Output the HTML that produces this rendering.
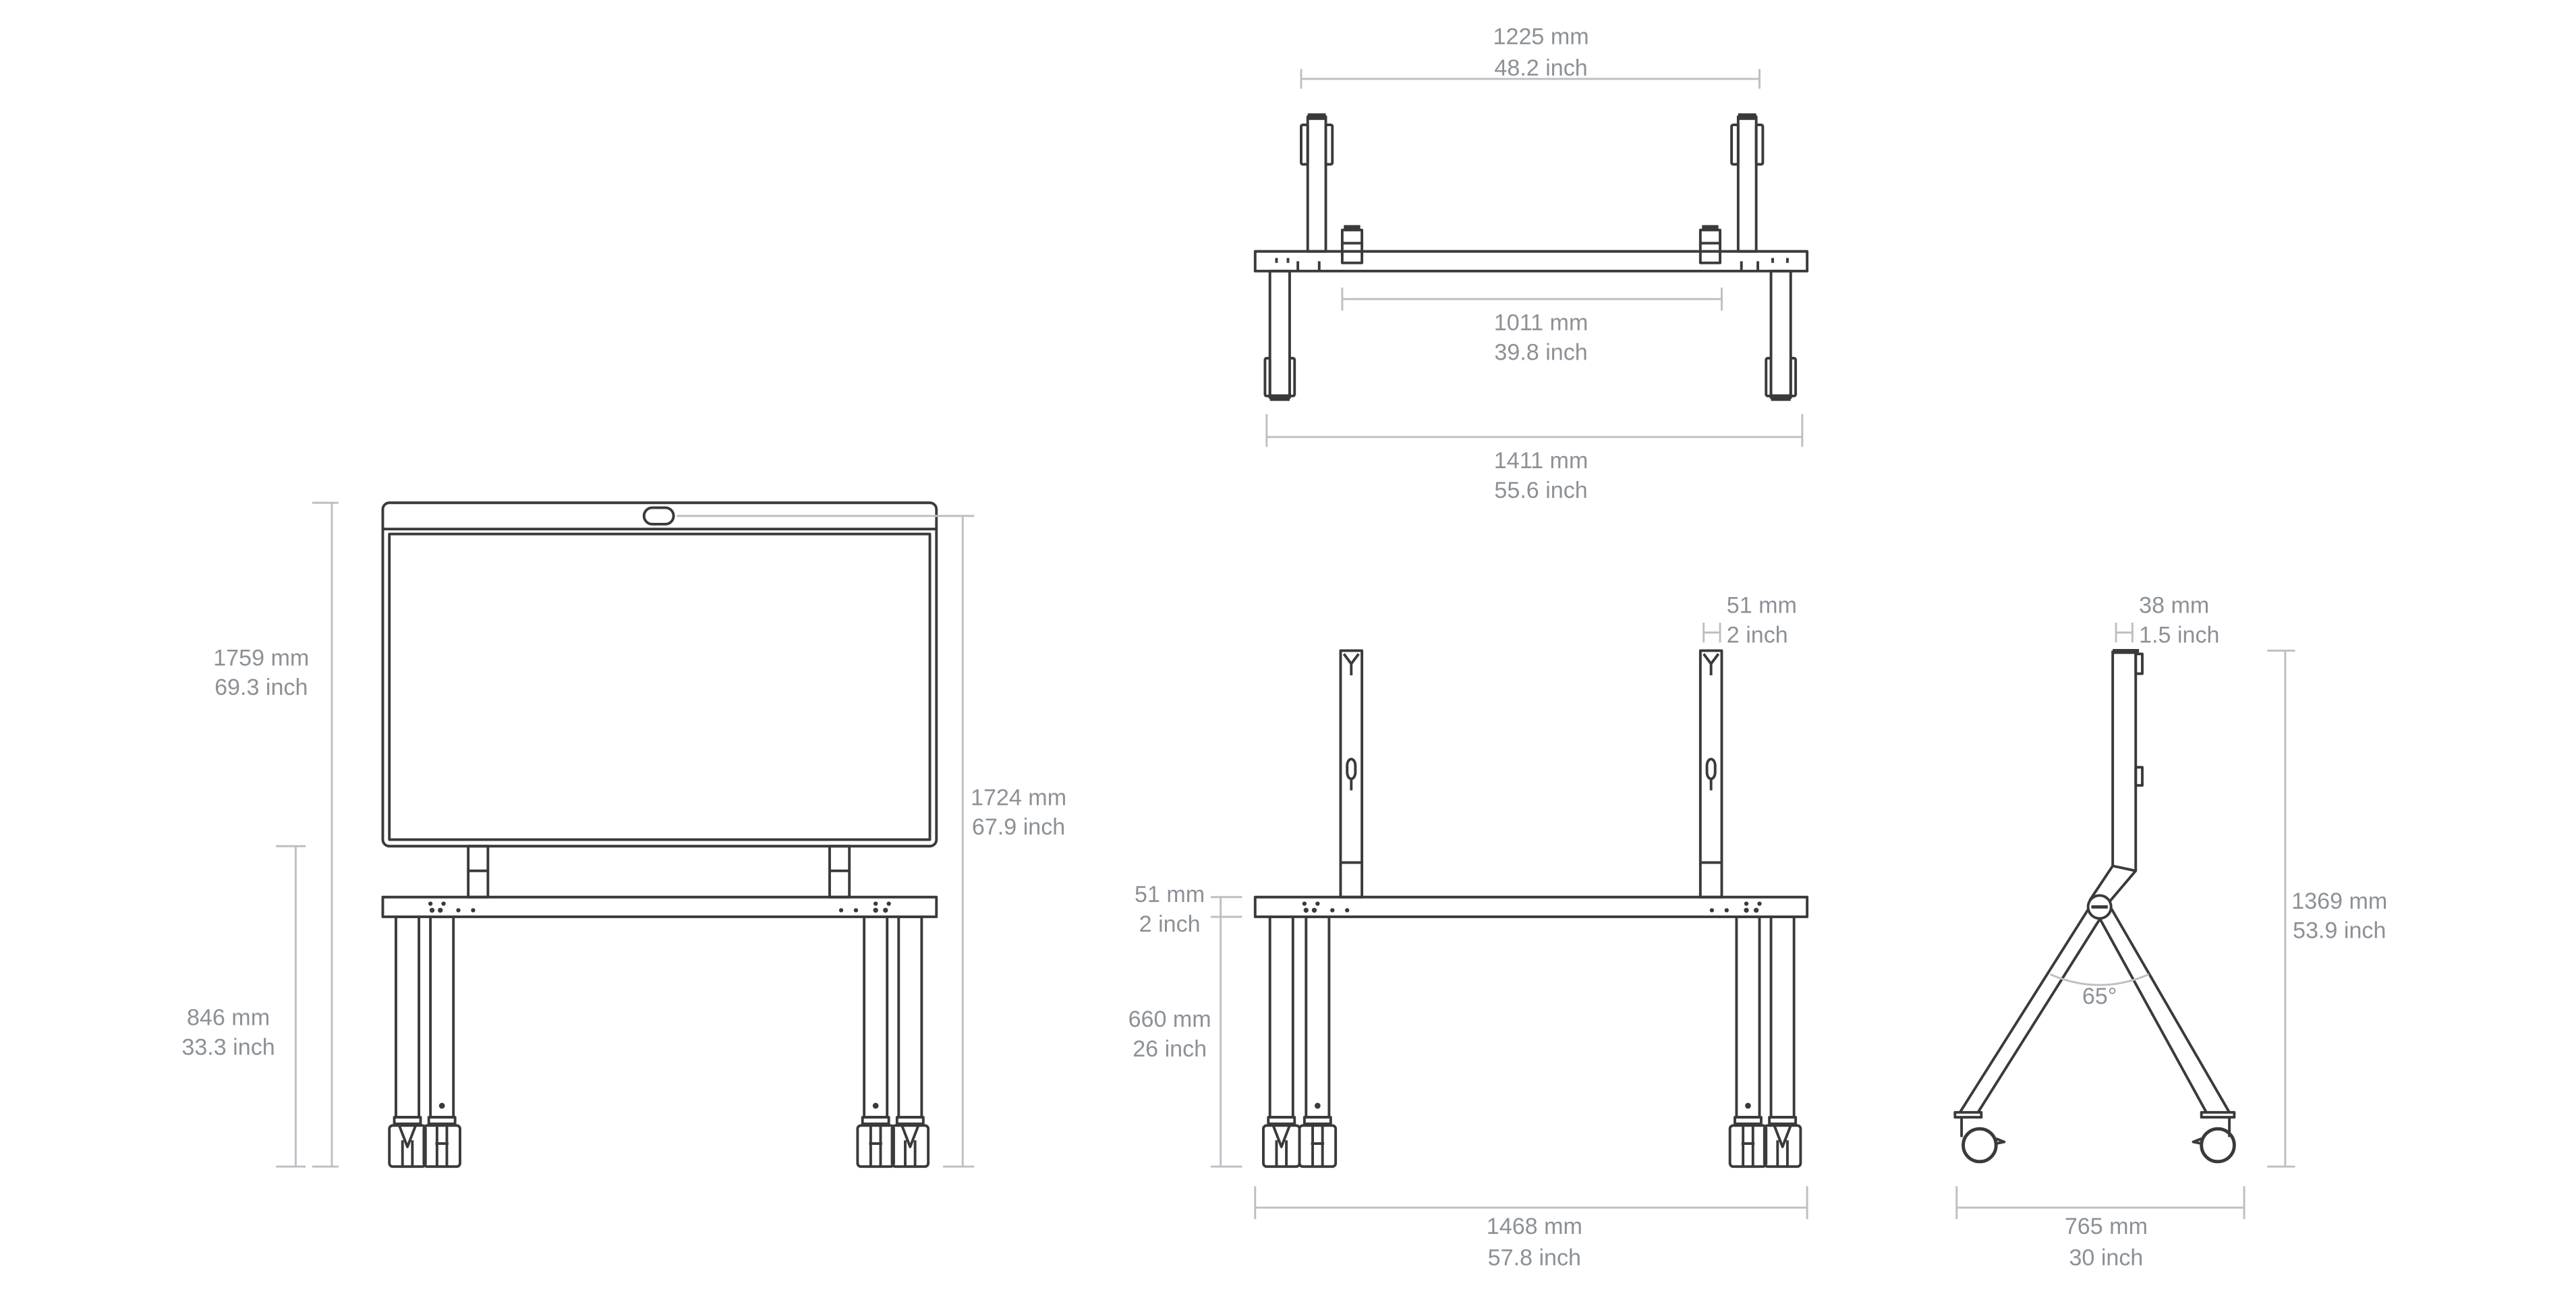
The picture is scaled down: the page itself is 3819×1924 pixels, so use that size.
<!DOCTYPE html>
<html><head><meta charset="utf-8"><style>
html,body{margin:0;padding:0;background:#fff;}
svg{display:block;}
text{font-family:"Liberation Sans",sans-serif;font-size:14px;fill:#8c9197;text-anchor:middle;}
.d{fill:none;stroke:#3a3a3a;stroke-width:1.6;stroke-linejoin:round;}
.g{fill:none;stroke:#bcbfc3;stroke-width:1.2;}
.f{fill:#3a3a3a;}
</style></head><body>
<svg width="3819" height="1924" viewBox="0 0 1568 790" preserveAspectRatio="none" xmlns="http://www.w3.org/2000/svg">
<defs>
<g id="leg">
  <rect class="d" x="0" y="0" width="14" height="122"/>
  <rect class="d" x="-1" y="122" width="16" height="4"/>
  <rect class="d" x="-4" y="127" width="22" height="25" rx="2"/>
  <path class="d" d="M2 127 L7 140 L12 127 M4 136 V152 M10 136 V152"/>
</g>
<g id="leg2">
  <rect class="d" x="0" y="0" width="14" height="122"/>
  <circle class="f" cx="7" cy="115" r="1.8"/>
  <rect class="d" x="-1" y="122" width="16" height="4"/>
  <rect class="d" x="-4" y="127" width="22" height="25" rx="2"/>
  <path class="d" d="M4 127 V152 M10 127 V152 M3 138 H11"/>
</g>
</defs>

<!-- ============ LEFT FRONT VIEW ============ -->
<rect class="d" x="233" y="306" width="337" height="209" rx="4"/>
<line class="d" x1="233" y1="322" x2="570" y2="322"/>
<rect class="d" x="237" y="325" width="329" height="186"/>
<rect class="d" x="392" y="309" width="18" height="10" rx="5"/>
<line class="g" x1="412" y1="314" x2="593" y2="314"/>
<rect class="d" x="285" y="515" width="12" height="31"/>
<line class="d" x1="285" y1="530" x2="297" y2="530"/>
<rect class="d" x="505" y="515" width="12" height="31"/>
<line class="d" x1="505" y1="530" x2="517" y2="530"/>
<rect class="d" x="233" y="546" width="337" height="12"/>
<g class="f">
<circle cx="262" cy="550" r="1.3"/><circle cx="270" cy="550" r="1.3"/>
<circle cx="263" cy="554" r="1.5"/><circle cx="268" cy="554" r="1.5"/><circle cx="279" cy="554" r="1.3"/><circle cx="288" cy="554" r="1.3"/>
<circle cx="533" cy="550" r="1.3"/><circle cx="541" cy="550" r="1.3"/>
<circle cx="512" cy="554" r="1.3"/><circle cx="521" cy="554" r="1.3"/><circle cx="533" cy="554" r="1.5"/><circle cx="539" cy="554" r="1.5"/>
</g>
<use href="#leg" x="241" y="558"/>
<use href="#leg2" x="262" y="558"/>
<use href="#leg2" x="526" y="558"/>
<use href="#leg" x="547" y="558"/>

<!-- left dims -->
<line class="g" x1="202" y1="306" x2="202" y2="710"/>
<line class="g" x1="190" y1="306" x2="206" y2="306"/>
<line class="g" x1="190" y1="710" x2="206" y2="710"/>
<line class="g" x1="180" y1="515" x2="180" y2="710"/>
<line class="g" x1="168" y1="515" x2="186" y2="515"/>
<line class="g" x1="168" y1="710" x2="186" y2="710"/>
<line class="g" x1="586" y1="314" x2="586" y2="710"/>
<line class="g" x1="574" y1="710" x2="593" y2="710"/>
<text x="159" y="405">1759 mm</text><text x="159" y="423">69.3 inch</text>
<text x="139" y="624">846 mm</text><text x="139" y="642">33.3 inch</text>
<text x="620" y="490">1724 mm</text><text x="620" y="508">67.9 inch</text>

<!-- ============ TOP VIEW ============ -->
<line class="g" x1="792" y1="48" x2="1071" y2="48"/>
<line class="g" x1="792" y1="42" x2="792" y2="54"/>
<line class="g" x1="1071" y1="42" x2="1071" y2="54"/>
<text x="938" y="27">1225 mm</text><text x="938" y="46">48.2 inch</text>

<rect class="d" x="796" y="71" width="11" height="82"/>
<rect class="f" x="796" y="69" width="11" height="4"/>
<rect class="d" x="792" y="76" width="4" height="24" rx="1"/>
<rect class="d" x="807" y="76" width="4" height="24" rx="1"/>
<rect class="d" x="1058" y="71" width="11" height="82"/>
<rect class="f" x="1058" y="69" width="11" height="4"/>
<rect class="d" x="1054" y="76" width="4" height="24" rx="1"/>
<rect class="d" x="1069" y="76" width="4" height="24" rx="1"/>
<rect class="d" x="764" y="153" width="336" height="12"/>
<rect class="d" x="817" y="140" width="12" height="20"/>
<rect class="f" x="818" y="137" width="10" height="3"/>
<line class="d" x1="817" y1="148" x2="829" y2="148"/>
<rect class="d" x="1035" y="140" width="12" height="20"/>
<rect class="f" x="1036" y="137" width="10" height="3"/>
<line class="d" x1="1035" y1="148" x2="1047" y2="148"/>
<path class="d" d="M777 157 V160 M784 157 V160 M790 159 V165 M803 159 V165 M1079 157 V160 M1088 157 V160 M1060 159 V165 M1070 159 V165"/>
<rect class="d" x="773" y="165" width="12" height="77"/>
<rect class="f" x="773" y="240" width="12" height="4"/>
<rect class="d" x="770" y="218" width="3" height="23" rx="1"/>
<rect class="d" x="785" y="218" width="3" height="23" rx="1"/>
<rect class="d" x="1078" y="165" width="12" height="77"/>
<rect class="f" x="1078" y="240" width="12" height="4"/>
<rect class="d" x="1075" y="218" width="3" height="23" rx="1"/>
<rect class="d" x="1090" y="218" width="3" height="23" rx="1"/>

<line class="g" x1="817" y1="182" x2="1048" y2="182"/>
<line class="g" x1="817" y1="175" x2="817" y2="189"/>
<line class="g" x1="1048" y1="175" x2="1048" y2="189"/>
<text x="938" y="201">1011 mm</text><text x="938" y="219">39.8 inch</text>
<line class="g" x1="771" y1="266" x2="1097" y2="266"/>
<line class="g" x1="771" y1="252" x2="771" y2="272"/>
<line class="g" x1="1097" y1="252" x2="1097" y2="272"/>
<text x="938" y="285">1411 mm</text><text x="938" y="303">55.6 inch</text>

<!-- ============ MIDDLE BOTTOM VIEW ============ -->
<rect class="d" x="816" y="396" width="13" height="150"/>
<line class="d" x1="816" y1="525" x2="829" y2="525"/>
<path class="d" d="M818 398 L822.5 404 L827 398 M822.5 404 V411"/>
<path class="d" d="M820 466 a2.5 4 0 0 1 5 0 v4 a2.5 4 0 0 1 -5 0 z M822.5 474 V481"/>
<rect class="d" x="1035" y="396" width="13" height="150"/>
<line class="d" x1="1035" y1="525" x2="1048" y2="525"/>
<path class="d" d="M1037 398 L1041.5 404 L1046 398 M1041.5 404 V411"/>
<path class="d" d="M1039 466 a2.5 4 0 0 1 5 0 v4 a2.5 4 0 0 1 -5 0 z M1041.5 474 V481"/>
<rect class="d" x="764" y="546" width="336" height="12"/>
<g class="f">
<circle cx="794" cy="550" r="1.3"/><circle cx="802" cy="550" r="1.3"/>
<circle cx="795" cy="554" r="1.5"/><circle cx="800" cy="554" r="1.5"/><circle cx="811" cy="554" r="1.3"/><circle cx="820" cy="554" r="1.3"/>
<circle cx="1063" cy="550" r="1.3"/><circle cx="1071" cy="550" r="1.3"/>
<circle cx="1042" cy="554" r="1.3"/><circle cx="1051" cy="554" r="1.3"/><circle cx="1063" cy="554" r="1.5"/><circle cx="1069" cy="554" r="1.5"/>
</g>
<use href="#leg" x="773" y="558"/>
<use href="#leg2" x="795" y="558"/>
<use href="#leg2" x="1057" y="558"/>
<use href="#leg" x="1078" y="558"/>

<line class="g" x1="743" y1="546" x2="743" y2="710"/>
<line class="g" x1="737" y1="546" x2="756" y2="546"/>
<line class="g" x1="737" y1="558" x2="756" y2="558"/>
<line class="g" x1="737" y1="710" x2="756" y2="710"/>
<text x="712" y="549">51 mm</text><text x="712" y="567">2 inch</text>
<text x="712" y="625">660 mm</text><text x="712" y="643">26 inch</text>
<line class="g" x1="764" y1="735" x2="1100" y2="735"/>
<line class="g" x1="764" y1="722" x2="764" y2="742"/>
<line class="g" x1="1100" y1="722" x2="1100" y2="742"/>
<text x="934" y="751">1468 mm</text><text x="934" y="770">57.8 inch</text>
<path class="g" d="M1037 379 V391 M1047 379 V391 M1037 385 H1047"/>
<text x="1051" y="373" style="text-anchor:start">51 mm</text><text x="1051" y="391" style="text-anchor:start">2 inch</text>

<!-- ============ SIDE VIEW ============ -->
<path class="g" d="M1288 379 V391 M1298 379 V391 M1288 385 H1298"/>
<text x="1302" y="373" style="text-anchor:start">38 mm</text><text x="1302" y="391" style="text-anchor:start">1.5 inch</text>
<rect class="f" x="1286" y="395" width="16" height="3"/>
<path class="d" d="M1286 396 V527 L1300 530 V396"/>
<rect class="d" x="1300" y="398" width="4" height="12"/>
<rect class="d" x="1300" y="467" width="4" height="11"/>
<path class="d" d="M1286 527 L1272 548 M1300 530 L1283 550"/>
<path class="d" d="M1272 552 L1193 677 M1279 558 L1204 677 M1277 557 L1343 677 M1284 551 L1357 677"/>
<path class="d" d="M1190 677 H1206 V680 H1190 Z M1340 677 H1360 V680 H1340 Z"/>
<circle class="d" cx="1278" cy="552" r="7" style="fill:#fff"/>
<line x1="1273" y1="552" x2="1283" y2="552" stroke="#3a3a3a" stroke-width="2"/>
<path class="d" d="M1194 680 V692 M1357 680 V692"/>
<circle class="d" cx="1205" cy="697" r="10" style="stroke-width:2"/>
<circle class="d" cx="1350" cy="697" r="10" style="stroke-width:2"/>
<path class="d" d="M1215 693 L1220 695 L1215 696 M1340 693 L1335 695 L1340 696"/>
<path class="g" d="M1248 593 Q1278 606 1308 593"/>
<text x="1278" y="611">65°</text>

<line class="g" x1="1391" y1="396" x2="1391" y2="710"/>
<line class="g" x1="1380" y1="396" x2="1397" y2="396"/>
<line class="g" x1="1380" y1="710" x2="1397" y2="710"/>
<text x="1424" y="553">1369 mm</text><text x="1424" y="571">53.9 inch</text>
<line class="g" x1="1191" y1="735" x2="1366" y2="735"/>
<line class="g" x1="1191" y1="722" x2="1191" y2="742"/>
<line class="g" x1="1366" y1="722" x2="1366" y2="742"/>
<text x="1282" y="751">765 mm</text><text x="1282" y="770">30 inch</text>
</svg>
</body></html>
